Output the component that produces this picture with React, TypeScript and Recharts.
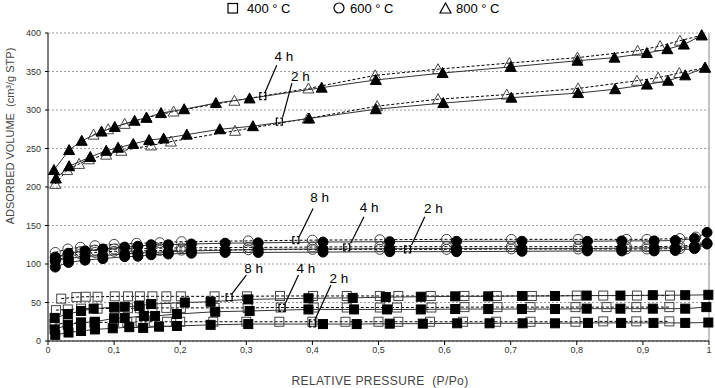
import React from 'react';
import {
  ScatterChart,
  Scatter,
  XAxis,
  YAxis,
  CartesianGrid,
  ReferenceLine,
} from 'recharts';

const FONT = '"Liberation Sans", Arial, sans-serif';

// axis ticks
const xTicks = [0, 0.1, 0.2, 0.3, 0.4, 0.5, 0.6, 0.7, 0.8, 0.9, 1];
const yTicks = [0, 50, 100, 150, 200, 250, 300, 350, 400];

// 800 °C, triangles
const t800h4AdsX = [0.009, 0.032, 0.051, 0.081, 0.101, 0.131, 0.149, 0.171, 0.206, 0.254, 0.305, 0.414, 0.496, 0.597, 0.7, 0.801, 0.857, 0.906, 0.937, 0.962, 0.989];
const t800h4AdsY = [222, 248, 260, 272, 278, 286, 290, 296, 301, 309, 315, 329, 339, 348, 356, 364, 368, 374, 379, 385, 397];
const t800h4DesX = [0.069, 0.091, 0.116, 0.149, 0.19, 0.282, 0.394, 0.495, 0.59, 0.698, 0.801, 0.892, 0.926, 0.956, 0.989];
const t800h4DesY = [268, 275, 282, 290, 298, 312, 328, 345, 353, 361, 368, 377, 383, 390, 397];
const t800h2AdsX = [0.012, 0.032, 0.064, 0.088, 0.106, 0.129, 0.153, 0.175, 0.21, 0.26, 0.31, 0.395, 0.496, 0.598, 0.701, 0.802, 0.858, 0.906, 0.938, 0.964, 0.994];
const t800h2AdsY = [211, 227, 239, 247, 251, 256, 261, 263, 268, 275, 279, 289, 301, 309, 316, 322, 327, 333, 338, 345, 355];
const t800h2DesX = [0.011, 0.029, 0.047, 0.062, 0.088, 0.111, 0.156, 0.186, 0.283, 0.393, 0.498, 0.59, 0.694, 0.802, 0.891, 0.923, 0.955, 0.994];
const t800h2DesY = [204, 222, 230, 236, 242, 247, 254, 259, 273, 289, 305, 314, 320, 328, 338, 342, 348, 355];

// 600 °C, circles
const c600AdsX = [0.011, 0.031, 0.056, 0.083, 0.116, 0.136, 0.156, 0.182, 0.217, 0.268, 0.318, 0.416, 0.517, 0.618, 0.717, 0.816, 0.868, 0.917, 0.949, 0.978, 0.997];
const c600h8AdsY = [109, 114, 117, 119.5, 122, 123, 125, 125, 126, 127, 127.5, 128.5, 129, 129.5, 129.5, 129.5, 130, 130, 130.5, 133, 141];
const c600h4AdsY = [104, 107, 110, 111, 113, 114, 115, 116, 117, 118, 119, 119.5, 120, 120, 120, 120, 120.5, 121, 121, 123, 127];
const c600h2AdsY = [96, 102, 105, 107, 109.5, 110, 112, 113, 114, 115, 115, 115.5, 116, 116, 116.5, 117, 117, 117, 117.5, 120, 126];
const c600DesX = [0.011, 0.03, 0.049, 0.071, 0.1, 0.134, 0.169, 0.202, 0.303, 0.4, 0.502, 0.603, 0.701, 0.802, 0.875, 0.906, 0.956, 0.98];
const c600h8DesY = [115, 119.5, 121.7, 123.8, 125.5, 126.9, 127.7, 129, 130, 131, 131.5, 132, 132, 132, 132, 132, 133, 135];
const c600h4DesY = [108, 113, 116, 118, 119.5, 120, 120.5, 121, 121.5, 122, 122.5, 122.5, 122.5, 122.5, 122.5, 122.5, 123, 125];
const c600h2DesY = [104, 110, 113, 115, 116.5, 117, 117.5, 118, 118.5, 119, 119, 119, 119.5, 119.5, 119.5, 119.5, 120, 122];

// 400 °C, squares
const s400h8AdsX = [0.01, 0.03, 0.05, 0.069, 0.1, 0.116, 0.138, 0.156, 0.207, 0.246, 0.303, 0.394, 0.461, 0.511, 0.564, 0.616, 0.666, 0.717, 0.767, 0.815, 0.866, 0.915, 0.964, 0.999];
const s400h8AdsY = [30, 35, 39, 42, 44, 44.5, 45.5, 48, 50, 51, 54, 55.5, 56, 57, 57.5, 58, 58, 58.5, 58.5, 59, 59, 59.5, 59.5, 60];
const s400h4AdsX = [0.01, 0.03, 0.05, 0.071, 0.1, 0.116, 0.145, 0.162, 0.195, 0.253, 0.305, 0.394, 0.463, 0.513, 0.564, 0.616, 0.666, 0.717, 0.767, 0.815, 0.866, 0.915, 0.964, 0.996];
const s400h4AdsY = [15, 21, 24, 25, 29.5, 30, 32.5, 32.5, 35, 38, 39, 41, 41, 41, 41, 41.5, 41.5, 41.5, 41.5, 42, 42, 42, 42, 44];
const s400h2AdsX = [0.011, 0.031, 0.05, 0.071, 0.098, 0.123, 0.144, 0.168, 0.195, 0.246, 0.303, 0.416, 0.467, 0.517, 0.567, 0.619, 0.668, 0.718, 0.767, 0.817, 0.867, 0.916, 0.964, 0.999];
const s400h2AdsY = [8, 11, 13, 15, 16.5, 18, 17, 18.6, 19.5, 21, 22, 22, 22, 22.5, 22.5, 23, 23, 23, 23, 23.5, 23.5, 23.5, 23.5, 24];
const s400h8DesX = [0.02, 0.043, 0.057, 0.075, 0.101, 0.121, 0.139, 0.158, 0.179, 0.201, 0.252, 0.301, 0.351, 0.401, 0.452, 0.502, 0.53, 0.579, 0.63, 0.679, 0.732, 0.8, 0.84, 0.891, 0.941];
const s400h8DesY = [55, 57, 57.5, 57.5, 58, 58, 58, 58, 58, 58, 58, 58, 58.5, 58.5, 58.5, 58.5, 58.5, 58.5, 58.5, 58.5, 58.5, 59, 59, 59, 59];
const s400h4DesX = [0.012, 0.03, 0.05, 0.075, 0.101, 0.121, 0.139, 0.158, 0.179, 0.201, 0.252, 0.302, 0.352, 0.402, 0.452, 0.502, 0.528, 0.58, 0.63, 0.68, 0.73, 0.798, 0.845, 0.89, 0.94];
const s400h4DesY = [40, 41, 42, 42, 42.5, 42.5, 42.5, 43, 43, 43, 43, 43, 43.5, 43.5, 43.5, 43.5, 43.5, 43.5, 44, 44, 44, 44, 44, 44, 44];
const s400h2DesX = [0.01, 0.03, 0.05, 0.07, 0.1, 0.12, 0.14, 0.16, 0.18, 0.2, 0.25, 0.3, 0.35, 0.4, 0.45, 0.5, 0.53, 0.578, 0.628, 0.678, 0.73, 0.798, 0.84, 0.89, 0.94];
const s400h2DesY = [22, 23, 24, 24, 24.5, 24.5, 25, 25, 25, 25, 25, 25, 25, 25, 25, 25, 25, 25, 25, 25, 25, 25, 25.5, 25.5, 25.5];

// "N h" callouts: label position, leader line end, bracket position (data units)
const callouts = [
  { text: '4 h', lx: 0.357, ly: 370, ax: 0.346, ay: 358, bx: 0.328, by: 322, mx: 0.325, my: 318 },
  { text: '2 h', lx: 0.382, ly: 343, ax: 0.369, ay: 335, bx: 0.355, by: 290.5, mx: 0.35, my: 285 },
  { text: '8 h', lx: 0.411, ly: 186.6, ax: 0.401, ay: 172, bx: 0.38, by: 135.5, mx: 0.375, my: 131 },
  { text: '4 h', lx: 0.486, ly: 173, ax: 0.478, ay: 161.4, bx: 0.458, by: 127, mx: 0.452, my: 121.7 },
  { text: '2 h', lx: 0.583, ly: 172, ax: 0.57, ay: 161.4, bx: 0.55, by: 124.7, mx: 0.544, my: 119 },
  { text: '8 h', lx: 0.311, ly: 94.4, ax: 0.3, ay: 85.7, bx: 0.278, by: 61, mx: 0.274, my: 56.7 },
  { text: '4 h', lx: 0.39, ly: 94.4, ax: 0.379, ay: 85.7, bx: 0.359, by: 49, mx: 0.354, my: 43 },
  { text: '2 h', lx: 0.44, ly: 81.4, ax: 0.428, ay: 72.7, bx: 0.404, by: 28, mx: 0.4, my: 23 },
];

const zip = (xs: number[], ys: number[]) => xs.map((x, i) => ({ x, y: ys[i] }));

type Kind = 'square' | 'circle' | 'triangle';

const makeShape = (kind: Kind, filled: boolean) => (props: any) => {
  const { cx, cy } = props;
  if (cx == null || cy == null) return <g />;
  const fill = filled ? '#000' : 'none';
  const stroke = filled ? '#000' : '#444';
  if (kind === 'square') {
    return <rect x={cx - 4.5} y={cy - 4.5} width={9} height={9} fill={fill} stroke={stroke} strokeWidth={1} />;
  }
  if (kind === 'circle') {
    return <circle cx={cx} cy={cy} r={5} fill={fill} stroke={stroke} strokeWidth={1} />;
  }
  return (
    <polygon
      points={`${cx},${cy - 5.5} ${cx - 5.5},${cy + 4.5} ${cx + 5.5},${cy + 4.5}`}
      fill={fill}
      stroke={stroke}
      strokeWidth={1}
    />
  );
};

const series = [
  { key: 's400h8d', data: zip(s400h8DesX, s400h8DesY), kind: 'square', filled: false },
  { key: 's400h4d', data: zip(s400h4DesX, s400h4DesY), kind: 'square', filled: false },
  { key: 's400h2d', data: zip(s400h2DesX, s400h2DesY), kind: 'square', filled: false },
  { key: 's400h8a', data: zip(s400h8AdsX, s400h8AdsY), kind: 'square', filled: true },
  { key: 's400h4a', data: zip(s400h4AdsX, s400h4AdsY), kind: 'square', filled: true },
  { key: 's400h2a', data: zip(s400h2AdsX, s400h2AdsY), kind: 'square', filled: true },
  { key: 'c600h8d', data: zip(c600DesX, c600h8DesY), kind: 'circle', filled: false },
  { key: 'c600h4d', data: zip(c600DesX, c600h4DesY), kind: 'circle', filled: false },
  { key: 'c600h2d', data: zip(c600DesX, c600h2DesY), kind: 'circle', filled: false },
  { key: 'c600h8a', data: zip(c600AdsX, c600h8AdsY), kind: 'circle', filled: true },
  { key: 'c600h4a', data: zip(c600AdsX, c600h4AdsY), kind: 'circle', filled: true },
  { key: 'c600h2a', data: zip(c600AdsX, c600h2AdsY), kind: 'circle', filled: true },
  { key: 't800h4d', data: zip(t800h4DesX, t800h4DesY), kind: 'triangle', filled: false },
  { key: 't800h2d', data: zip(t800h2DesX, t800h2DesY), kind: 'triangle', filled: false },
  { key: 't800h4a', data: zip(t800h4AdsX, t800h4AdsY), kind: 'triangle', filled: true },
  { key: 't800h2a', data: zip(t800h2AdsX, t800h2AdsY), kind: 'triangle', filled: true },
] as { key: string; data: { x: number; y: number }[]; kind: Kind; filled: boolean }[];

// plot geometry (matches chart margins below)
const W = 715;
const H = 388;
const PL = 48;
const PR = 709;
const PT = 33;
const PB = 341;
const px = (x: number) => PL + (PR - PL) * x;
const py = (v: number) => PB - ((PB - PT) * v) / 400;

const fmtX = (v: number) => (v === 0 || v === 1 ? String(v) : v.toFixed(1).replace('.', ','));

// little "[]" mark where a callout line lands
const bracket = (x: number, y: number) =>
  `M${x - 1},${y - 3.5} H${x - 3} V${y + 3.5} H${x - 1} M${x + 1},${y - 3.5} H${x + 3} V${y + 3.5} H${x + 1}`;

const App: React.FC = () => {
  return (
    <div style={{ position: 'absolute', left: 0, top: 0, width: W, height: H, background: '#fff', fontFamily: FONT }}>
      <ScatterChart width={W} height={H} margin={{ top: PT, right: W - PR, bottom: 17, left: 0 }}>
        <CartesianGrid vertical={false} stroke="#999" strokeDasharray="2 2" />
        <XAxis
          type="number"
          dataKey="x"
          domain={[0, 1]}
          ticks={xTicks}
          tickFormatter={fmtX}
          height={30}
          axisLine={{ stroke: '#000' }}
          tickLine={{ stroke: '#000' }}
          tickSize={4}
          tick={{ fontSize: 9, fill: '#333', fontFamily: FONT }}
        />
        <YAxis
          type="number"
          dataKey="y"
          domain={[0, 400]}
          ticks={yTicks}
          width={PL}
          axisLine={{ stroke: '#000' }}
          tickLine={{ stroke: '#000' }}
          tickSize={3}
          tickMargin={4}
          tick={{ fontSize: 9, fill: '#333', fontFamily: FONT }}
        />
        <ReferenceLine x={1} stroke="#888" />
        {series.map((s) => (
          <Scatter
            key={s.key}
            data={s.data}
            isAnimationActive={false}
            lineType="joint"
            line={
              s.filled
                ? { stroke: '#333', strokeWidth: 1 }
                : { stroke: '#000', strokeWidth: 1, strokeDasharray: '3 2' }
            }
            shape={makeShape(s.kind, s.filled)}
          />
        ))}
      </ScatterChart>

      <svg width={W} height={H} style={{ position: 'absolute', left: 0, top: 0, pointerEvents: 'none' }}>
        {/* legend */}
        <rect x={228} y={3.5} width={9.5} height={9.5} fill="none" stroke="#000" strokeWidth={1.2} />
        <text x={247} y={13} fontSize={13} fontFamily={FONT} fill="#000">400 ° C</text>
        <circle cx={339} cy={8} r={5} fill="none" stroke="#000" strokeWidth={1.2} />
        <text x={350} y={13} fontSize={13} fontFamily={FONT} fill="#000">600 ° C</text>
        <polygon points="445.5,3 440,13 451,13" fill="none" stroke="#000" strokeWidth={1.2} />
        <text x={456} y={13} fontSize={13} fontFamily={FONT} fill="#000">800 ° C</text>

        {/* axis titles */}
        <text
          transform="translate(14,136) rotate(-90)"
          textAnchor="middle"
          fontSize={11}
          fontFamily={FONT}
          fill="#444"
        >
          ADSORBED VOLUME{'\u00a0\u00a0'}(cm³/g STP)
        </text>
        <text x={380} y={385} textAnchor="middle" fontSize={12} fontFamily={FONT} fill="#444" letterSpacing={0.4}>
          RELATIVE PRESSURE{'\u00a0\u00a0'}(P/Po)
        </text>

        {/* callouts */}
        {callouts.map((c, i) => (
          <g key={i}>
            <text x={px(c.lx)} y={py(c.ly) + 4.5} textAnchor="middle" fontSize={13.5} fontFamily={FONT} fill="#000">
              {c.text}
            </text>
            <line x1={px(c.ax)} y1={py(c.ay)} x2={px(c.bx)} y2={py(c.by)} stroke="#000" strokeWidth={1.2} />
            <path d={bracket(px(c.mx), py(c.my))} fill="none" stroke="#000" strokeWidth={1.2} />
          </g>
        ))}
      </svg>
    </div>
  );
};

export default App;
